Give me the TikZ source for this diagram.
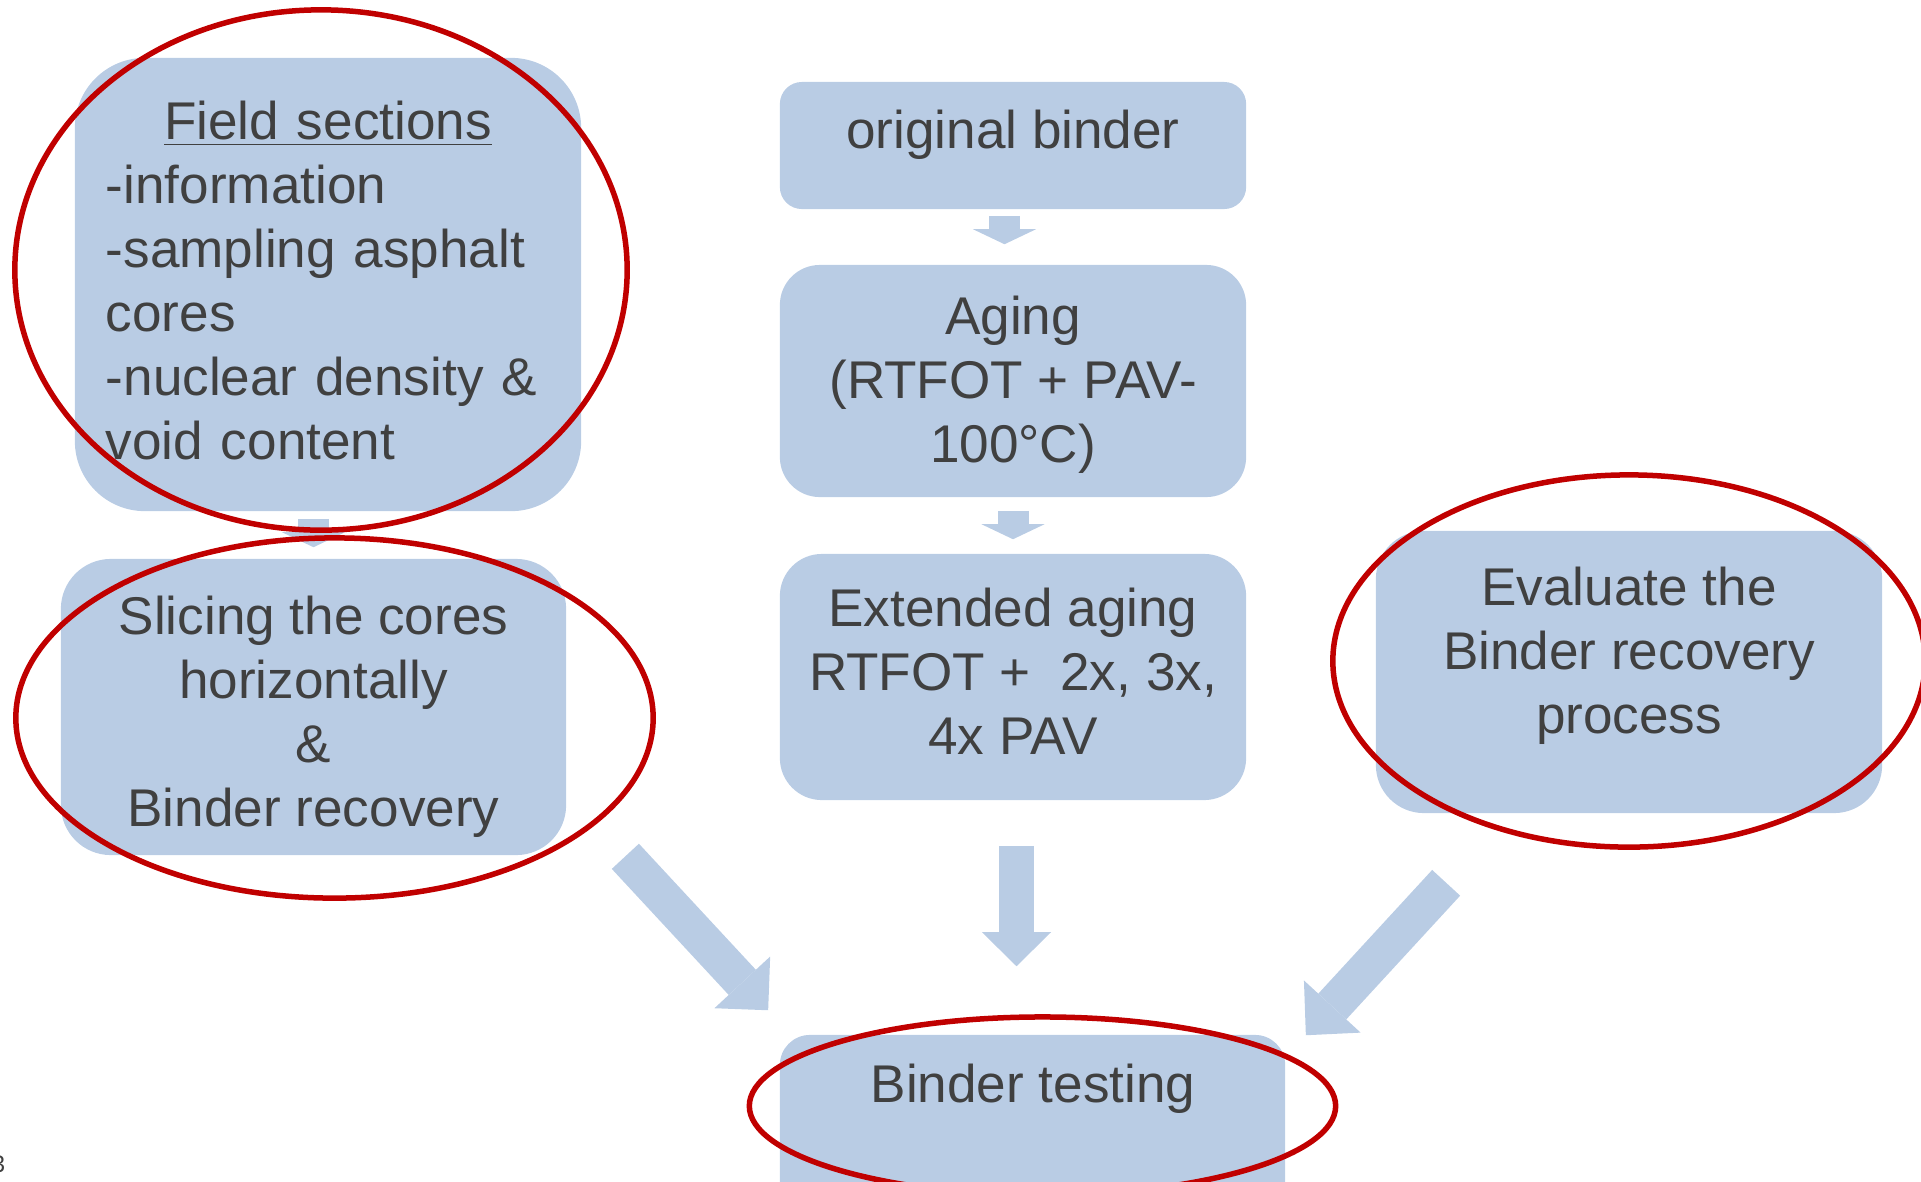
\documentclass[tikz,border=0pt]{standalone}
\usepackage{fontspec}
\setmainfont{Liberation Sans}
\usetikzlibrary{arrows.meta, positioning, calc}
\definecolor{cbox}{HTML}{B9CCE4}
\definecolor{cred}{HTML}{C00000}
\definecolor{ctext}{HTML}{404040}
\tikzset{
  every picture/.style={font=\fontsize{15.1pt}{18.2pt}\selectfont},
  box/.style={fill=cbox, rounded corners=#1, inner sep=0pt},
  box/.default=4mm,
  txt/.style={text=ctext, align=center, inner sep=0pt,
    execute at begin node=\strut, execute at end node=\strut},
  ring/.style={draw=cred, line width=0.55mm},
  blk/.style n args={3}{draw=cbox, line width=#1,
    -{Triangle[length=#3, width=#2, line width=0pt]}},
}

\begin{document}
\begin{tikzpicture}[x=0.01cm, y=-0.01cm]
  \useasboundingbox (0,0) rectangle (1921,1181);
  % the boxes
  \node[box=7mm, minimum width=5.06cm, minimum height=4.53cm] (fld) at (328,284.5) {};
  \node[box=2.2mm, minimum width=4.66cm, minimum height=1.27cm] (orig) at (1013,145.5) {};
  \node[box, minimum width=4.66cm, minimum height=2.32cm] (aging) at (1013,381) {};
  \node[box=4.2mm, minimum width=4.66cm, minimum height=2.46cm] (ext) at (1013,677) {};
  \node[box=5mm, minimum width=5.05cm, minimum height=2.96cm] (slice) at (313.5,707) {};
  \node[box=4.8mm, minimum width=5.06cm, minimum height=2.82cm] (evalb) at (1629,672) {};
  \node[box=3mm, minimum width=5.05cm, minimum height=2.3cm] (test) at (1032.5,1150) {};
  % block arrows
  \draw[blk={3.1mm}{6.3mm}{1.5mm}] ($(orig.south)+(-8.5,6)$) -- ($(aging.north)+(-8.5,-20)$);
  \draw[blk={3.1mm}{6.3mm}{1.5mm}] ($(aging.south)+(0,13)$) -- ($(ext.north)+(0,-14)$);
  \draw[blk={3.1mm}{6.3mm}{1.5mm}] ($(fld.south)+(-14.5,7)$) -- ($(slice.north)+(0,-11)$);
  \draw[blk={3.5mm}{6.9mm}{3.4mm}] ($(ext.south)+(3.5,45)$) -- ($(test.north)+(-16,-68)$);
  \draw[blk={3.7mm}{7.6mm}{3.8mm}] ($(slice.south east)+(58.5,0.5)$) -- ($(test.north west)+(-11,-24)$);
  \draw[blk={3.8mm}{7.7mm}{3.9mm}] ($(evalb.south west)+(71,69)$) -- ($(test.north east)+(20,1)$);
  % texts
  \node[txt, align=left, text width=4.44cm] (fldtxt) at (328,286.2)
    {\makebox[\hsize]{\underline{Field sections}}\\-information\\-sampling asphalt\\cores\\-nuclear density \&\\void content};
  \node[txt] (origtxt) at (1013,135.2) {original binder};
  \node[txt] (agingtxt) at (1013,389) {Aging\\(RTFOT + PAV-\\100°C)};
  \node[txt] (exttxt) at (1013,681) {Extended aging\\RTFOT +\ \ 2x, 3x,\\4x PAV};
  \node[txt] (slicetxt) at (313.5,721) {Slicing the cores\\horizontally\\\&\\Binder recovery};
  \node[txt] (evaltxt) at (1629,660) {Evaluate the\\Binder recovery\\process};
  \node[txt] (testtxt) at (1033,1089.2) {Binder testing};
  \node[text=ctext, font=\fontsize{6.8pt}{8pt}\selectfont, anchor=base] (pgno) at (-1.5,1172) {3};
  % red marks
  \draw[ring] ($(fld)+(-7,-14.5)$) ellipse [x radius=3.06cm, y radius=2.6cm];
  \draw[ring] ($(slice)+(21,11)$) ellipse [x radius=3.185cm, y radius=1.8cm];
  \draw[ring] ($(evalb)+(0,-11)$) ellipse [x radius=2.96cm, y radius=1.86cm];
  \draw[ring] ($(test)+(10,-44)$) ellipse [x radius=2.93cm, y radius=0.89cm];
\end{tikzpicture}
\end{document}
